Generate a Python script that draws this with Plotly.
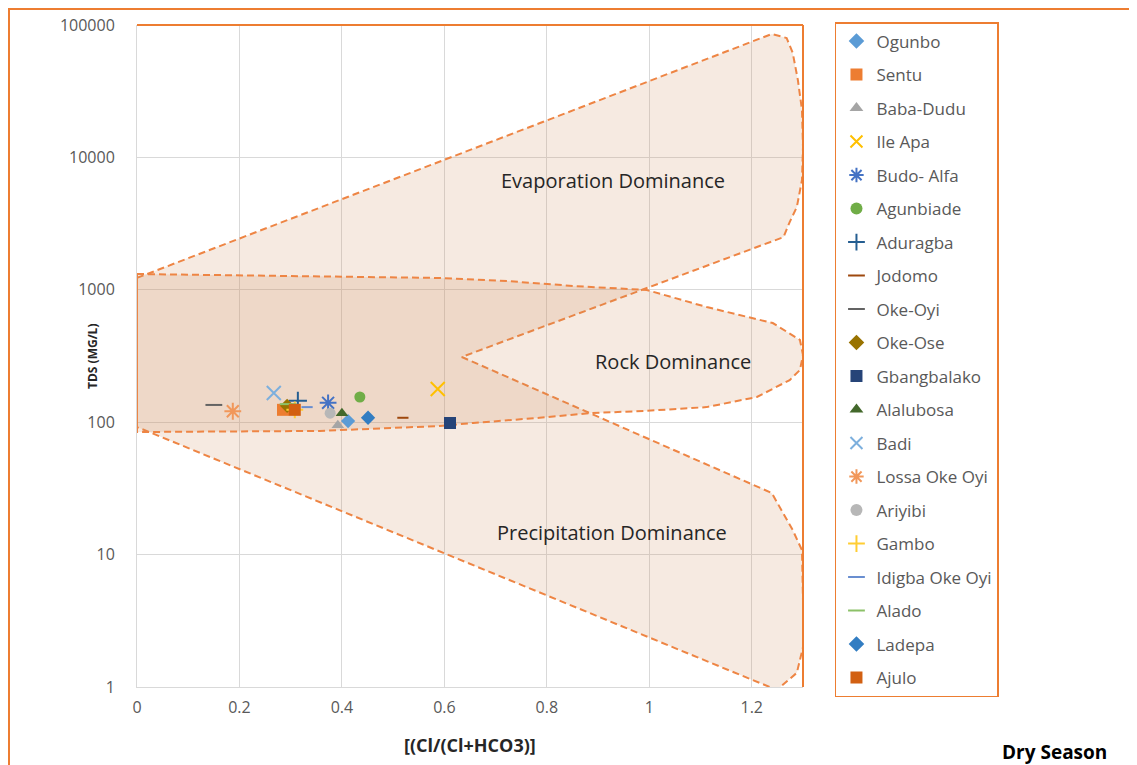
import math
import plotly.graph_objects as go

# ---------------- data ----------------
sites = ["Ogunbo", "Sentu", "Baba-Dudu", "Ile Apa", "Budo- Alfa", "Agunbiade",
         "Aduragba", "Jodomo", "Oke-Oyi", "Oke-Ose", "Gbangbalako", "Alalubosa",
         "Badi", "Lossa Oke Oyi", "Ariyibi", "Gambo", "Idigba Oke Oyi", "Alado",
         "Ladepa", "Ajulo"]
cl_ratio = [0.412, 0.285, 0.392, 0.587, 0.373, 0.435,
            0.314, 0.519, 0.150, 0.293, 0.611, 0.400,
            0.267, 0.187, 0.377, 0.308, 0.332, 0.295,
            0.451, 0.308]
tds = [102, 124, 95, 178, 140, 155,
       145, 108, 135, 133, 98.6, 117,
       166, 121, 117, 124, 130, 137,
       108, 124]

# Gibbs boundary outlines (x = Cl/(Cl+HCO3), y = TDS)
outer_x = [0, 1.239, 1.268, 1.28, 1.29, 1.298, 1.3, 1.298, 1.288, 1.274, 1.262,
           0.634,
           1.239, 1.255, 1.28, 1.298, 1.3, 1.3, 1.288, 1.249, 0, 0]
outer_y = [1230, 85500, 79800, 61500, 38400, 22800, 12000, 6750, 4220, 3250, 2500,
           311,
           29.2, 22.9, 15.3, 10.8, 4.5, 2.0, 1.28, 0.95, 92, 1230]
rock_x = [0, 0.591, 0.722, 0.851, 0.995, 1.112, 1.241, 1.294, 1.3, 1.294, 1.274,
          1.21, 1.112, 0.995, 0.884, 0.786, 0.656, 0.591, 0.357, 0, 0]
rock_y = [1316, 1228, 1165, 1069, 996, 741, 561, 418, 322, 248, 208,
          155, 130, 122, 117, 108, 98.6, 93.6, 85.9, 84.3, 1316]

zone_labels = ["Evaporation Dominance", "Rock Dominance", "Precipitation Dominance"]
zone_x = [0.929, 1.046, 0.927]
zone_y = [6640, 285, 14.8]

y_tickvals = [1, 10, 100, 1000, 10000, 100000]
y_ticktext = ["1", "10", "100", "1000", "10000", "100000"]

# ---------------- styles ----------------
symbols = ["diamond", "square", "triangle-up", "x-thin-open", "asterisk-open", "circle",
           "cross-thin-open", "line-ew-open", "line-ew-open", "diamond", "square", "triangle-up",
           "x-thin-open", "asterisk-open", "circle", "cross-thin-open", "line-ew-open", "line-ew-open",
           "diamond", "square"]
colors = ["#5B9BD5", "#ED7D31", "#A5A5A5", "#FFC000", "#4472C4", "#70AD47",
          "#255E91", "#9E480E", "#636363", "#997300", "#264478", "#43682B",
          "#7CAFDD", "#F1975A", "#B7B7B7", "#FFCD33", "#698ED0", "#8CC168",
          "#327DC2", "#D26012"]
sizes = [11, 12, 11, 14, 14, 11,
         13, 8, 12, 11, 12, 11,
         14, 14, 11, 12, 8, 12,
         11, 12]

fig = go.Figure()

zone_fill = "rgba(205,140,90,0.18)"
zone_line = dict(color="#EE8544", width=2, dash="7px,4px")
fig.add_trace(go.Scatter(x=outer_x, y=outer_y, mode="lines", fill="toself",
                         fillcolor=zone_fill, line=zone_line,
                         showlegend=False, hoverinfo="skip"))
fig.add_trace(go.Scatter(x=rock_x, y=rock_y, mode="lines", fill="toself",
                         fillcolor=zone_fill, line=zone_line,
                         showlegend=False, hoverinfo="skip"))

for i, name in enumerate(sites):
    open_sym = symbols[i].endswith("-open")
    fig.add_trace(go.Scatter(
        x=[cl_ratio[i]], y=[tds[i]], mode="markers", name=name,
        legendgroup=name,
        marker=dict(symbol=symbols[i], size=sizes[i], color=colors[i],
                    line=dict(color=colors[i], width=2 if open_sym else 0)),
    ))

for t, x, y in zip(zone_labels, zone_x, zone_y):
    fig.add_annotation(x=x, y=math.log10(y), yref="y", xref="x", text=t, showarrow=False,
                       xanchor="center", yanchor="middle",
                       font=dict(family="Open Sans", size=20, color="#262626"))

fig.add_annotation(xref="paper", yref="paper", x=-0.0676, y=0.50, text="<b>TDS (MG/L)</b>",
                   textangle=-90, showarrow=False, xanchor="center", yanchor="middle",
                   font=dict(family="Open Sans", size=12, color="#262626"))
fig.add_annotation(xref="paper", yref="paper", x=0.5, y=-0.0876, text="<b>[(Cl/(Cl+HCO3)]</b>",
                   showarrow=False, xanchor="center", yanchor="middle",
                   font=dict(family="Open Sans", size=18, color="#262626"))
fig.add_annotation(xref="paper", yref="paper", x=1.378, y=-0.098, text="<b>Dry Season</b>",
                   showarrow=False, xanchor="center", yanchor="middle",
                   font=dict(family="Open Sans", size=19, color="#000000"))

# plot-area orange top/right border
fig.add_shape(type="line", xref="paper", yref="paper", x0=0, x1=1, y0=1, y1=1,
              line=dict(color="#ED7D31", width=2))
fig.add_shape(type="line", xref="paper", yref="paper", x0=1, x1=1, y0=0, y1=1,
              line=dict(color="#ED7D31", width=2))
# outer chart border
fig.add_shape(type="rect", xref="paper", yref="paper", x0=-0.1922, x1=1.52, y0=-0.14, y1=1.0242,
              line=dict(color="#ED7D31", width=2))

fig.update_layout(
    width=1129, height=757,
    margin=dict(l=129, r=334, t=17, b=78, autoexpand=False),
    paper_bgcolor="white", plot_bgcolor="white",
    font=dict(family="Open Sans", color="#595959"),
    legend=dict(x=1.048, y=1.0045, xanchor="left", yanchor="top",
                bordercolor="#ED7D31", borderwidth=1.5, tracegroupgap=8.4,
                maxheight=720,
                font=dict(family="Open Sans", size=17, color="#595959"),
                itemsizing="constant"),
    showlegend=True,
)
fig.update_xaxes(range=[0, 1.3], dtick=0.2, showgrid=True, gridcolor="#D9D9D9", gridwidth=1,
                 zeroline=False, showline=True, linecolor="#D9D9D9", linewidth=1,
                 ticks="", ticklabelstandoff=6, automargin=False,
                 tickfont=dict(family="Open Sans", size=16, color="#595959"))
fig.update_yaxes(type="log", range=[0, 5], tickvals=y_tickvals, ticktext=y_ticktext,
                 showgrid=True, gridcolor="#D9D9D9", gridwidth=1,
                 zeroline=False, showline=True, linecolor="#D9D9D9", linewidth=1,
                 ticks="", ticklabelstandoff=18, automargin=False,
                 tickfont=dict(family="Open Sans", size=16, color="#595959"))

fig.write_html("out.html")
